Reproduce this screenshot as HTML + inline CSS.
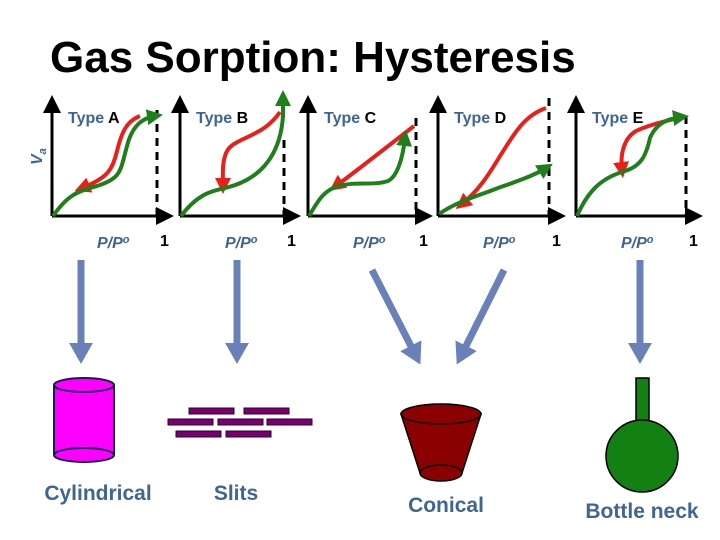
<!DOCTYPE html>
<html><head><meta charset="utf-8"><style>
body{margin:0;background:#fff;}
svg{display:block;font-family:"Liberation Sans",sans-serif;}
.lab{fill:#3f6593;font-weight:bold;}
</style></head><body>
<svg width="720" height="540" viewBox="0 0 720 540">
<defs>
<marker id="ak" markerWidth="6" markerHeight="6" refX="3" refY="3" orient="auto" markerUnits="strokeWidth"><path d="M0,0 L6,3 L0,6 z" fill="#000"/></marker>
<marker id="ar" markerWidth="4" markerHeight="4" refX="2" refY="2" orient="auto" markerUnits="strokeWidth"><path d="M0,0 L4,2 L0,4 z" fill="#e8201a"/></marker>
<marker id="ag" markerWidth="4" markerHeight="4" refX="2" refY="2" orient="auto" markerUnits="strokeWidth"><path d="M0,0 L4,2 L0,4 z" fill="#1f7f1a"/></marker>
<marker id="ab" markerWidth="3" markerHeight="3.4" refX="1" refY="1.7" orient="auto" markerUnits="strokeWidth"><path d="M0,0 L3,1.7 L0,3.4 z" fill="#6a80b8"/></marker>
</defs>
<text x="50" y="72" font-size="44" font-weight="bold" fill="#000">Gas Sorption: Hysteresis</text>
<text transform="translate(42,165) rotate(-90)" class="lab" font-size="16" font-style="italic">V<tspan font-size="11" dy="4">a</tspan></text>
<g id="panels"></g>
<g stroke="#6a80b8" stroke-width="7" fill="none">
<line x1="81" y1="260" x2="81" y2="350" marker-end="url(#ab)"/>
<line x1="237" y1="260" x2="237" y2="350" marker-end="url(#ab)"/>
<line x1="372" y1="270" x2="414" y2="352" marker-end="url(#ab)"/>
<line x1="504" y1="270" x2="463" y2="352" marker-end="url(#ab)"/>
<line x1="640" y1="260" x2="640" y2="350" marker-end="url(#ab)"/>
</g>
<g stroke="#1a1a5a" stroke-width="2">
<rect x="54" y="385" width="60" height="70" fill="#ff00ff" stroke="none"/>
<line x1="54" y1="385" x2="54" y2="455"/><line x1="114" y1="385" x2="114" y2="455"/>
<ellipse cx="84" cy="455" rx="30" ry="7" fill="#ff00ff"/>
<ellipse cx="84" cy="385" rx="30" ry="7" fill="#ff00ff"/>
</g>
<g fill="#7a0070" stroke="#2a0030" stroke-width="1">
<rect x="189" y="408" width="45" height="6"/><rect x="244" y="408" width="45" height="6"/>
<rect x="168" y="419" width="45" height="6"/><rect x="218" y="419" width="45" height="6"/><rect x="267" y="419" width="45" height="6"/>
<rect x="176" y="431" width="45" height="6"/><rect x="226" y="431" width="45" height="6"/>
</g>
<g stroke="#000" stroke-width="1.5" fill="#8b0000">
<path d="M401,414 L420,473 L462,473 L481,414 Z"/>
<ellipse cx="441" cy="473" rx="21" ry="8"/>
<ellipse cx="441" cy="414" rx="40" ry="10"/>
</g>
<g stroke="#000" stroke-width="1.5" fill="#138013">
<rect x="636" y="378" width="13" height="44"/>
<circle cx="642" cy="456" r="36"/>
</g>
<text x="98" y="500" text-anchor="middle" class="lab" font-size="21">Cylindrical</text>
<text x="236" y="500" text-anchor="middle" class="lab" font-size="21">Slits</text>
<text x="446" y="512" text-anchor="middle" class="lab" font-size="21">Conical</text>
<text x="642" y="518" text-anchor="middle" class="lab" font-size="21">Bottle neck</text>
</svg>
<script>
const panelTypes = ["A","B","C","D","E"];
const axisX = [52, 180, 308, 438, 576];
const dashX = [157, 284, 416, 549, 686];
const dashTop = [110, 140, 118, 98, 116];
const greenPaths = [
 "M1,0 C15,-20 25,-25 45,-30 C70,-38 68,-45 75,-70 C80,-90 90,-98 103,-100",
 "M1,0 C20,-25 35,-25 45,-28 C75,-35 100,-55 103,-100 L103,-118",
 "M1,0 C10,-15 15,-25 30,-30 C50,-35 65,-30 80,-35 C90,-40 95,-60 97,-78",
 "M1,-2 C20,-15 40,-20 60,-28 C80,-35 95,-40 108,-48",
 "M1,0 C12,-25 25,-38 49,-45 C65,-50 70,-60 74,-78 C80,-92 90,-97 105,-99"
];
const redPaths = [
 "M88,-100 C75,-95 70,-85 65,-65 C60,-45 55,-38 30,-28",
 "M100,-104 C80,-75 50,-80 45,-60 C42,-50 43,-40 43,-30",
 "M106,-90 C80,-70 55,-50 28,-30",
 "M108,-108 C85,-100 75,-80 62,-60 C50,-40 40,-25 24,-12",
 "M107,-99 C90,-95 75,-92 60,-85 C48,-78 44,-62 46,-46"
];
const ns = "http://www.w3.org/2000/svg";
const g = document.getElementById('panels');
function mk(tag, attrs, parent){const e=document.createElementNS(ns,tag);for(const k in attrs)e.setAttribute(k,attrs[k]);parent.appendChild(e);return e;}
panelTypes.forEach((t,i)=>{
 const x0=axisX[i], y0=216;
 const p=mk('g',{},g);
 
 
 const d=mk('line',{x1:dashX[i],y1:dashTop[i],x2:dashX[i],y2:y0,stroke:'#000','stroke-width':3,'stroke-dasharray':'8,6'},p);
 
 
 const ya=mk('line',{x1:x0,y1:y0,x2:x0,y2:104,stroke:'#000','stroke-width':3,'marker-end':'url(#ak)'},p);
 
 
 const xa=mk('line',{x1:x0,y1:y0,x2:dashX[i]+8,y2:y0,stroke:'#000','stroke-width':3,'marker-end':'url(#ak)'},p);
 
 
 const r=mk('path',{d:redPaths[i],transform:`translate(${x0},${y0})`,fill:'none',stroke:'#e8201a','stroke-width':4,'marker-end':'url(#ar)'},p);
 
 
 const gr=mk('path',{d:greenPaths[i],transform:`translate(${x0},${y0})`,fill:'none',stroke:'#1f7f1a','stroke-width':4,'marker-end':'url(#ag)'},p);
 
 
 const tt=mk('text',{x:x0+16,y:123,'font-size':16,'font-weight':'bold',fill:'#3f6593'},p);
 tt.textContent='Type ';
 const ts=mk('tspan',{fill:'#000'},tt); ts.textContent=t;
 
 
 const px=mk('text',{x:x0+45,y:248,'font-size':16,'font-weight':'bold','font-style':'italic',fill:'#3f6593'},p);
 px.textContent='P/P';
 const sup=mk('tspan',{'font-size':11,dy:-5},px); sup.textContent='o';
 
 
 const one=mk('text',{x:dashX[i]+3,y:246,'font-size':16,'font-weight':'bold',fill:'#000'},p);
 one.textContent='1';
 
 
});
</script>
</body></html>
